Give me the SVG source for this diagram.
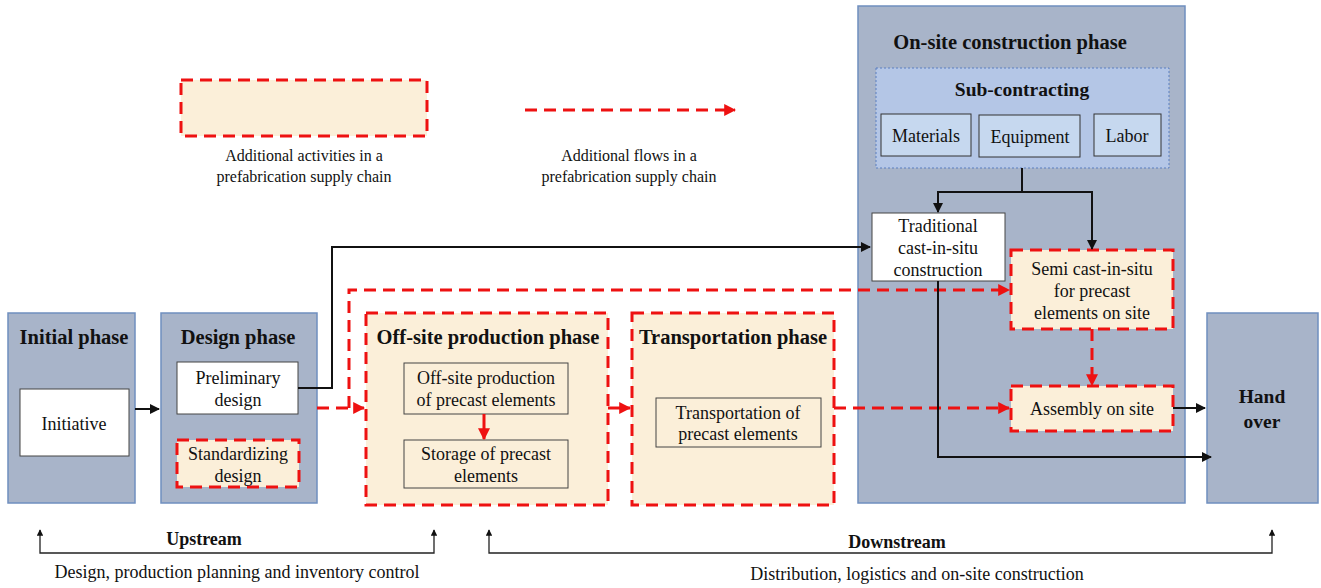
<svg xmlns="http://www.w3.org/2000/svg" width="1321" height="588" viewBox="0 0 1321 588">
<defs>
<style>
text{font-family:"Liberation Serif","Times New Roman",serif;fill:#111;text-anchor:middle}
.t{font-size:18px}
.l{font-size:16px}
.h{font-size:20.5px;font-weight:bold}
.b{font-size:18px;font-weight:bold}
.phase{fill:#a8b4c9;stroke:#6f8fbf;stroke-width:1.5}
.add{fill:#fbefd9;stroke:#ee1111;stroke-width:3;stroke-dasharray:12 7}
.white{fill:#fff;stroke:#444;stroke-width:1}
.inner{fill:none;stroke:#444;stroke-width:1}
.sub{fill:#b4c6e6;stroke:#5b7fc0;stroke-width:1;stroke-dasharray:2 2}
.res{fill:#c6d8ef;stroke:#333;stroke-width:1}
.blk{fill:none;stroke:#111;stroke-width:2}
.red{fill:none;stroke:#ee1111;stroke-width:3;stroke-dasharray:12 7}
.thin{fill:none;stroke:#222;stroke-width:1.3}
</style>
<marker id="ab" viewBox="0 0 10 10" refX="9" refY="5" markerWidth="5" markerHeight="5" orient="auto-start-reverse"><path d="M0,0L10,5L0,10z" fill="#111"/></marker>
<marker id="ar" viewBox="0 0 10 10" refX="9" refY="5" markerWidth="4" markerHeight="4" orient="auto-start-reverse"><path d="M0,0L10,5L0,10z" fill="#ee1111"/></marker>
</defs>

<g id="legend-activities">
<rect class="add" x="181" y="80" width="246" height="56"/>
<text class="l" x="304" y="161">Additional activities in a</text>
<text class="l" x="304" y="182">prefabrication supply chain</text>
</g>
<g id="legend-flows">
<text class="l" x="629" y="161">Additional flows in a</text>
<text class="l" x="629" y="182">prefabrication supply chain</text>
</g>

<g id="initial-phase">
<rect class="phase" x="8" y="313" width="127" height="190"/>
<text class="h" x="74" y="344">Initial phase</text>
<rect class="white" x="20" y="389" width="109" height="67"/>
<text class="t" x="74" y="430">Initiative</text>
</g>

<g id="design-phase">
<rect class="phase" x="161" y="313" width="156" height="190"/>
<text class="h" x="238" y="344">Design phase</text>
<g id="preliminary-design">
<rect class="white" x="177" y="362" width="121" height="52"/>
<text class="t" x="238" y="384">Preliminary</text>
<text class="t" x="238" y="406">design</text>
</g>
<g id="standardizing-design">
<rect class="add" x="177" y="440" width="122" height="47"/>
<text class="t" x="238" y="460">Standardizing</text>
<text class="t" x="238" y="482">design</text>
</g>
</g>

<g id="offsite-phase">
<rect class="add" x="366" y="313" width="242" height="192"/>
<text class="h" x="488" y="344">Off-site production phase</text>
<g id="offsite-production">
<rect class="inner" x="404" y="363" width="164" height="51"/>
<text class="t" x="486" y="384">Off-site production</text>
<text class="t" x="486" y="406">of precast elements</text>
</g>
<g id="storage">
<rect class="inner" x="404" y="440" width="164" height="48"/>
<text class="t" x="486" y="460">Storage of precast</text>
<text class="t" x="486" y="482">elements</text>
</g>
</g>

<g id="transport-phase">
<rect class="add" x="632" y="313" width="202" height="192"/>
<text class="h" x="733" y="344">Transportation phase</text>
<g id="transportation">
<rect class="inner" x="656" y="398" width="165" height="49"/>
<text class="t" x="738" y="419">Transportation of</text>
<text class="t" x="738" y="440">precast elements</text>
</g>
</g>

<g id="onsite-phase">
<rect class="phase" x="858" y="6" width="327" height="497"/>
<text class="h" x="1010" y="49">On-site construction phase</text>
<g id="sub-contracting">
<rect class="sub" x="876" y="68" width="293" height="100"/>
<text class="h" x="1022" y="96" style="font-size:19.5px">Sub-contracting</text>
<g id="materials"><rect class="res" x="881" y="114" width="90" height="42"/><text class="t" x="926" y="142">Materials</text></g>
<g id="equipment"><rect class="res" x="979" y="115" width="101" height="42"/><text class="t" x="1030" y="143">Equipment</text></g>
<g id="labor"><rect class="res" x="1094" y="114" width="67" height="42"/><text class="t" x="1127" y="142">Labor</text></g>
</g>
<g id="traditional">
<rect class="white" x="872" y="213" width="133" height="68"/>
<text class="t" x="938" y="232">Traditional</text>
<text class="t" x="938" y="254">cast-in-situ</text>
<text class="t" x="938" y="276">construction</text>
</g>
<g id="semi-cast">
<rect class="add" x="1011" y="250" width="162" height="79"/>
<text class="t" x="1092" y="275">Semi cast-in-situ</text>
<text class="t" x="1092" y="297">for precast</text>
<text class="t" x="1092" y="319">elements on site</text>
</g>
<g id="assembly">
<rect class="add" x="1011" y="386" width="162" height="45"/>
<text class="t" x="1092" y="415">Assembly on site</text>
</g>
</g>

<g id="hand-over">
<rect class="phase" x="1207" y="313" width="111" height="190"/>
<text class="h" x="1262" y="403" style="font-size:19.5px">Hand</text>
<text class="h" x="1262" y="428" style="font-size:19.5px">over</text>
</g>

<g id="connectors">
<path class="red" d="M525,110H735" marker-end="url(#ar)"/>
<path class="blk" d="M135,409H159" marker-end="url(#ab)"/>
<path class="blk" d="M298,388H332V247H870" marker-end="url(#ab)"/>
<path class="red" d="M317,408H364" marker-end="url(#ar)"/>
<path class="red" d="M349,408V290H1009" marker-end="url(#ar)"/>
<path class="red" d="M484,414V439" marker-end="url(#ar)" style="stroke-dasharray:none"/>
<path class="red" d="M608,408H630" marker-end="url(#ar)" style="stroke-dasharray:none"/>
<path class="red" d="M834,408H1009" marker-end="url(#ar)"/>
<path class="blk" d="M1022,168V192H938V212" marker-end="url(#ab)"/>
<path class="blk" d="M1022,192H1092V249" marker-end="url(#ab)"/>
<path class="red" d="M1092,329V385" marker-end="url(#ar)"/>
<path class="blk" d="M1173,408H1205" marker-end="url(#ab)"/>
<path class="blk" d="M938,281V457H1211" marker-end="url(#ab)"/>
<path class="thin" d="M40,530V553H434V530" marker-start="url(#ab)" marker-end="url(#ab)"/>
<path class="thin" d="M489,530V553H1272V530" marker-start="url(#ab)" marker-end="url(#ab)"/>
</g>

<g id="stream-labels">
<text class="b" x="204" y="545">Upstream</text>
<text class="t" x="237" y="578">Design, production planning and inventory control</text>
<text class="b" x="897" y="548">Downstream</text>
<text class="t" x="917" y="580">Distribution, logistics and on-site construction</text>
</g>
</svg>
